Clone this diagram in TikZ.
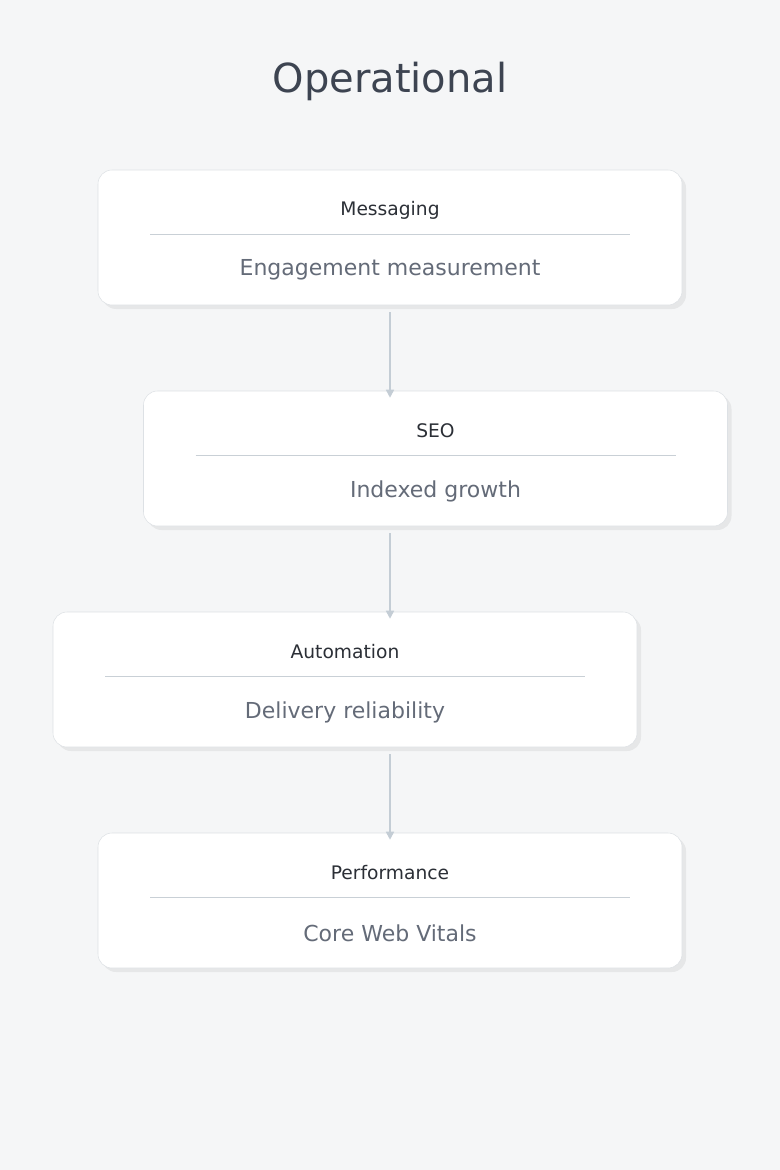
\documentclass[tikz,border=0pt]{standalone}
\usepackage{fontspec}
\setmainfont{DejaVu Sans}
\usetikzlibrary{arrows.meta,shadows}
\definecolor{bg}{HTML}{F5F6F7}
\definecolor{edge}{HTML}{DDE1E5}
\definecolor{rule}{HTML}{C9D0D6}
\definecolor{arrowc}{HTML}{C4CDD5}
\definecolor{titlec}{HTML}{3D4451}
\definecolor{headc}{HTML}{2B2F36}
\definecolor{subc}{HTML}{646B78}
\tikzset{
  card/.style={draw=edge, fill=white, rounded corners=14*0.75pt, minimum width=584*0.75pt,
    minimum height=135*0.75pt, drop shadow={shadow xshift=4*0.75pt, shadow yshift=-4*0.75pt, fill=black, opacity=0.06}},
  head/.style={text=headc, font=\fontsize{14}{16}\selectfont},
  sub/.style={text=subc, font=\fontsize{16.5}{19}\selectfont},
  flow/.style={draw=arrowc, line width=1.2pt, -{Triangle[length=6pt,width=6pt]}}
}
\begin{document}
\begin{tikzpicture}[x=0.75pt,y=-0.75pt]
  \fill[bg] (0,0) rectangle (780,1170);
  \useasboundingbox (0,0) rectangle (780,1170);

  \node[text=titlec, font=\fontsize{30}{34}\selectfont] (title) at (390,81) {Operational};

  \node[card] (c1) at (390,237.5) {};
  \node[card] (c2) at (435.5,458.5) {};
  \node[card] (c3) at (345,679.5) {};
  \node[card] (c4) at (390,900.5) {};

  \node[head] (h1) at (390,210) {Messaging};
  \node[sub] (s1) at (390,270) {Engagement measurement};
  \node[head] (h2) at (435.5,431) {SEO};
  \node[sub] (s2) at (435.5,491) {Indexed growth};
  \node[head] (h3) at (345,652) {Automation};
  \node[sub] (s3) at (345,712) {Delivery reliability};
  \node[head] (h4) at (390,873) {Performance};
  \node[sub] (s4) at (390,933) {Core Web Vitals};

  \draw[rule] (150,234) -- (630,234);
  \draw[rule] (195.5,455) -- (675.5,455);
  \draw[rule] (105,676) -- (585,676);
  \draw[rule] (150,897) -- (630,897);

  \coordinate (ax) at (390,0);
  \draw[flow] (c1.south -| ax) ++(0,7) -- ([yshift=-7*0.75pt]c2.north -| ax);
  \draw[flow] ([yshift=-7*0.75pt]c2.south -| ax) -- ([yshift=-7*0.75pt]c3.north -| ax);
  \draw[flow] ([yshift=-7*0.75pt]c3.south -| ax) -- ([yshift=-7*0.75pt]c4.north -| ax);
\end{tikzpicture}
\end{document}
